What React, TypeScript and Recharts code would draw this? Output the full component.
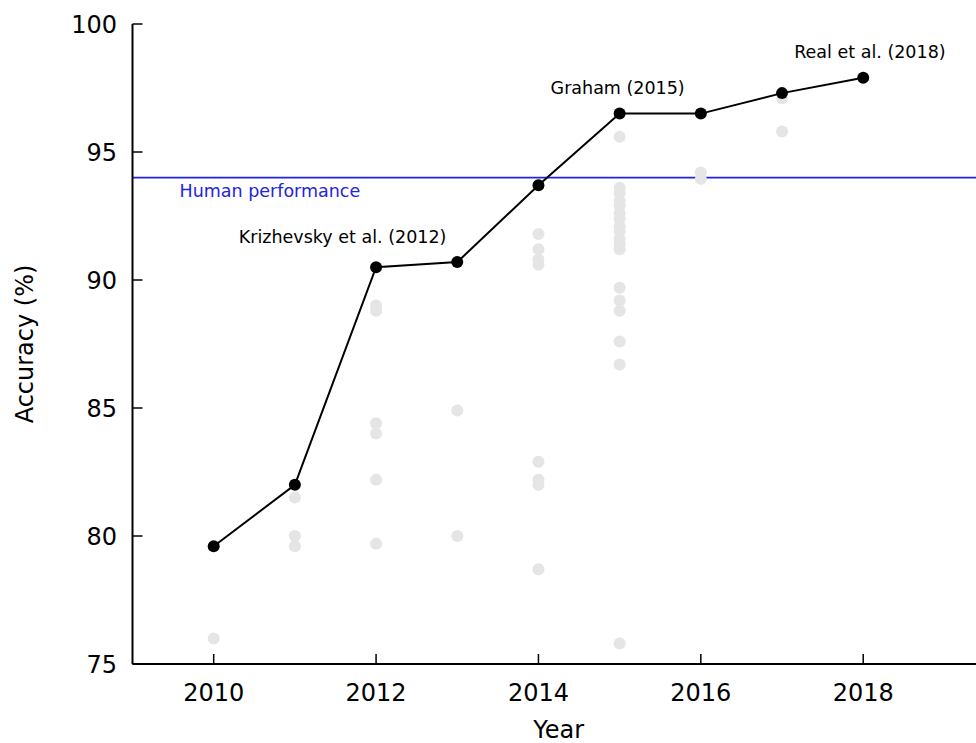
import {
  ComposedChart,
  Line,
  Scatter,
  XAxis,
  YAxis,
  ReferenceLine,
  LabelList,
  Label,
} from "recharts";

const FONT = "'DejaVu Sans', sans-serif";

// best published accuracy per year
const years = [2010, 2011, 2012, 2013, 2014, 2015, 2016, 2017, 2018];
const bestAccuracy = [79.6, 82.0, 90.5, 90.7, 93.7, 96.5, 96.5, 97.3, 97.9];

// all the other reported results, by year
const results2010 = [76.0];
const results2011 = [81.5, 80.0, 79.6];
const results2012 = [89.0, 88.8, 84.4, 84.0, 82.2, 79.7];
const results2013 = [84.9, 80.0];
const results2014 = [91.8, 91.2, 90.8, 90.6, 82.9, 82.2, 82.0, 78.7];
const results2015 = [
  95.6, 93.6, 93.4, 93.1, 92.9, 92.6, 92.4, 92.1, 91.9, 91.6, 91.4, 91.2,
  89.7, 89.2, 88.8, 87.6, 86.7, 75.8,
];
const results2016 = [94.2, 93.95];
const results2017 = [97.1, 95.8];

const noteYears = [2012, 2015, 2018];
const noteLabels = ["Krizhevsky et al. (2012)", "Graham (2015)", "Real et al. (2018)"];

const humanAccuracy = 94.0;

const xTicks = [2010, 2012, 2014, 2016, 2018];
const yTicks = [75, 80, 85, 90, 95, 100];

// where each note sits relative to its point
const noteOffset: Record<string, [number, number]> = {
  "Krizhevsky et al. (2012)": [-33.5, -24.5],
  "Graham (2015)": [-2, -20],
  "Real et al. (2018)": [6.7, -19.5],
};

const bestData = years.map((year, i) => {
  const n = noteYears.indexOf(year);
  return { year, acc: bestAccuracy[i], note: n >= 0 ? noteLabels[n] : undefined };
});

const otherData = [
  ...results2010.map((acc) => ({ year: 2010, acc })),
  ...results2011.map((acc) => ({ year: 2011, acc })),
  ...results2012.map((acc) => ({ year: 2012, acc })),
  ...results2013.map((acc) => ({ year: 2013, acc })),
  ...results2014.map((acc) => ({ year: 2014, acc })),
  ...results2015.map((acc) => ({ year: 2015, acc })),
  ...results2016.map((acc) => ({ year: 2016, acc })),
  ...results2017.map((acc) => ({ year: 2017, acc })),
];

const axisLine = { stroke: "#000", strokeWidth: 2 };
const tickLine = { stroke: "#000", strokeWidth: 1.5 };
const tickFont = { fontSize: 24, fontFamily: FONT, fill: "#000" };

function HumanLabel({ viewBox }: any) {
  if (!viewBox) return null;
  return (
    <text x={viewBox.x + 47} y={viewBox.y + 19} fontSize={17.5} fontFamily={FONT} fill="#2323e0">
      Human performance
    </text>
  );
}

function NoteLabel({ x, y, value }: any) {
  if (!value || !noteOffset[value]) return null;
  const [dx, dy] = noteOffset[value];
  return (
    <text x={x + dx} y={y + dy} textAnchor="middle" fontSize={17.5} fontFamily={FONT} fill="#000">
      {value}
    </text>
  );
}

const GreyDot = (props: any) => <circle cx={props.cx} cy={props.cy} r={6} fill="#e5e5e5" />;

export default function App() {
  return (
    <div
      style={{
        position: "absolute",
        left: 0,
        top: 0,
        width: 976,
        height: 743,
        overflow: "hidden",
        background: "#fff",
      }}
    >
      {/* wider than the page: the right border falls just past the edge */}
      <ComposedChart width={999} height={743} margin={{ top: 24, right: 14, bottom: 0, left: 0 }}>
        {/* negative tickSize turns the tick marks inward */}
        <XAxis
          dataKey="year"
          type="number"
          domain={[2009, 2019.5]}
          ticks={xTicks}
          height={79}
          tick={tickFont}
          tickLine={tickLine}
          tickSize={-10}
          tickMargin={30}
          axisLine={axisLine}
        >
          <Label value="Year" position="insideBottom" offset={5} fontSize={24} fontFamily={FONT} fill="#000" />
        </XAxis>
        <XAxis
          xAxisId="top"
          orientation="top"
          type="number"
          domain={[2009, 2019.5]}
          height={0}
          tick={false}
          tickLine={false}
          axisLine={axisLine}
        />
        <YAxis
          dataKey="acc"
          type="number"
          domain={[75, 100]}
          ticks={yTicks}
          width={132.5}
          tick={tickFont}
          tickLine={tickLine}
          tickSize={-10}
          tickMargin={25.5}
          axisLine={axisLine}
        >
          <Label
            value="Accuracy (%)"
            angle={-90}
            position="insideLeft"
            offset={24}
            fontSize={24}
            fontFamily={FONT}
            fill="#000"
            style={{ textAnchor: "middle" }}
          />
        </YAxis>
        <YAxis
          yAxisId="right"
          orientation="right"
          type="number"
          domain={[75, 100]}
          ticks={yTicks}
          width={0}
          tick={false}
          tickLine={tickLine}
          tickSize={-10}
          axisLine={axisLine}
        />
        <Scatter data={otherData} dataKey="acc" shape={GreyDot} isAnimationActive={false} />
        <ReferenceLine y={humanAccuracy} stroke="#2323e0" strokeWidth={1.8} label={HumanLabel} />
        <Line
          data={bestData}
          dataKey="acc"
          stroke="#000"
          strokeWidth={2}
          dot={{ r: 6, fill: "#000", stroke: "#000", strokeWidth: 0 }}
          activeDot={false}
          isAnimationActive={false}
        >
          <LabelList dataKey="note" content={NoteLabel} />
        </Line>
      </ComposedChart>
    </div>
  );
}
